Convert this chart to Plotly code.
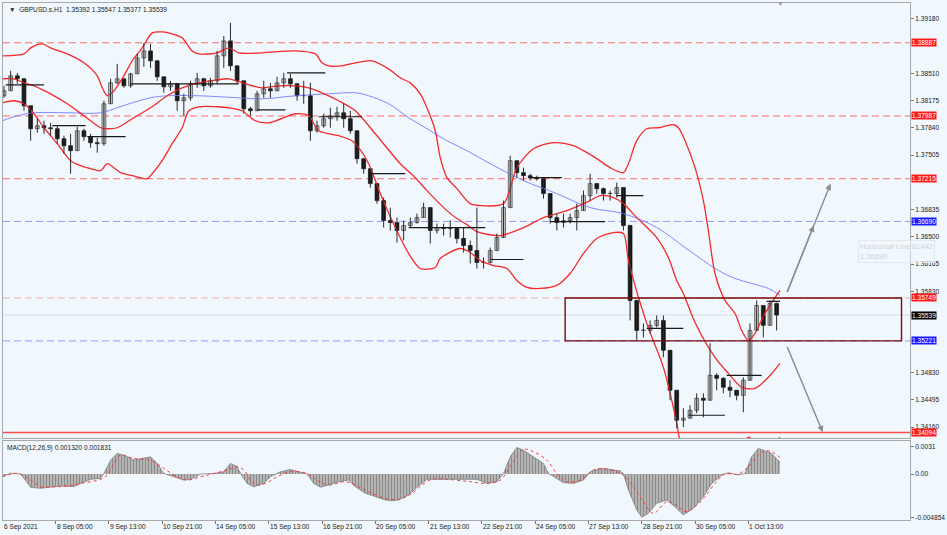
import plotly.graph_objects as go

# ---------------- DATA ----------------
symbol_title = "▼  GBPUSD.s,H1  1.35392 1.35547 1.35377 1.35539"
macd_title = "MACD(12,26,9) 0.001320 0.001831"

# 4-hour candles, x = hour index counted from the first H1 bar on screen
bar_hours = list(range(0, 468, 4))
first_open = 1.38235
highs = [1.38358, 1.38542, 1.38517, 1.38370, 1.38014, 1.37953, 1.37928, 1.37903, 1.37867, 1.37744,
         1.37768, 1.37854, 1.37830, 1.37768, 1.37719, 1.38174, 1.38444, 1.38628, 1.38419, 1.38517,
         1.38750, 1.38885, 1.38873, 1.38665, 1.38419, 1.38419, 1.38394, 1.38259, 1.38419, 1.38517,
         1.38456, 1.38456, 1.38787, 1.38971, 1.39131, 1.38579, 1.38419, 1.38100, 1.38296, 1.38419,
         1.38394, 1.38468, 1.38517, 1.38505, 1.38394, 1.38419, 1.38394, 1.37928, 1.38014, 1.38088,
         1.38100, 1.38137, 1.38051, 1.37744, 1.37437, 1.37314, 1.37155, 1.36983, 1.36860, 1.36737,
         1.36701, 1.36737, 1.36786, 1.36921, 1.36860, 1.36664, 1.36664, 1.36701, 1.36615, 1.36615,
         1.36455, 1.36860, 1.36246, 1.36369, 1.36541, 1.36946, 1.37498, 1.37437, 1.37351, 1.37277,
         1.37253, 1.37192, 1.36946, 1.36786, 1.36786, 1.36786, 1.36909, 1.37069, 1.37277, 1.37155,
         1.37106, 1.37069, 1.37167, 1.36983, 1.36650, 1.35473, 1.35436, 1.35473, 1.35534, 1.35534,
         1.35068, 1.34552, 1.34393, 1.34430, 1.34577, 1.34577, 1.35191, 1.34822, 1.34773, 1.34737,
         1.34614, 1.34773, 1.35436, 1.35719, 1.35596, 1.35719, 1.35690]
lows = [1.38210, 1.38358, 1.38382, 1.38051, 1.37683, 1.37781, 1.37768, 1.37744, 1.37646, 1.37523,
        1.37277, 1.37560, 1.37683, 1.37597, 1.37535, 1.37621, 1.38174, 1.38382, 1.38333, 1.38333,
        1.38517, 1.38591, 1.38579, 1.38419, 1.38272, 1.38296, 1.38051, 1.37989, 1.38174, 1.38333,
        1.38296, 1.38333, 1.38382, 1.38579, 1.38542, 1.38382, 1.38014, 1.37989, 1.38051, 1.38210,
        1.38210, 1.38296, 1.38333, 1.38333, 1.38174, 1.38137, 1.37683, 1.37781, 1.37842, 1.37842,
        1.37928, 1.37842, 1.37768, 1.37400, 1.37277, 1.37106, 1.36909, 1.36615, 1.36578, 1.36430,
        1.36455, 1.36615, 1.36664, 1.36737, 1.36418, 1.36541, 1.36516, 1.36492, 1.36418, 1.36308,
        1.36173, 1.36111, 1.36111, 1.36173, 1.36332, 1.36492, 1.36983, 1.37228, 1.37192, 1.37192,
        1.37192, 1.36971, 1.36664, 1.36578, 1.36615, 1.36664, 1.36578, 1.36823, 1.36946, 1.37032,
        1.36946, 1.36946, 1.36983, 1.36578, 1.35473, 1.35228, 1.35264, 1.35313, 1.35387, 1.35019,
        1.34491, 1.34147, 1.34160, 1.34282, 1.34331, 1.34282, 1.34491, 1.34614, 1.34577, 1.34528,
        1.34491, 1.34344, 1.34896, 1.35436, 1.35264, 1.35510, 1.35350]
closes = [1.38296, 1.38480, 1.38444, 1.38112, 1.37830, 1.37867, 1.37842, 1.37830, 1.37707, 1.37621,
          1.37560, 1.37805, 1.37732, 1.37658, 1.37646, 1.38137, 1.38394, 1.38444, 1.38358, 1.38505,
          1.38701, 1.38787, 1.38665, 1.38468, 1.38345, 1.38382, 1.38174, 1.38210, 1.38382, 1.38444,
          1.38358, 1.38419, 1.38726, 1.38910, 1.38603, 1.38419, 1.38075, 1.38051, 1.38259, 1.38321,
          1.38296, 1.38394, 1.38444, 1.38382, 1.38235, 1.38235, 1.37805, 1.37867, 1.37953, 1.37989,
          1.38026, 1.37953, 1.37805, 1.37462, 1.37339, 1.37155, 1.36946, 1.36701, 1.36676, 1.36578,
          1.36639, 1.36676, 1.36737, 1.36860, 1.36578, 1.36615, 1.36602, 1.36602, 1.36480, 1.36394,
          1.36332, 1.36185, 1.36185, 1.36332, 1.36492, 1.36860, 1.37437, 1.37290, 1.37253, 1.37228,
          1.37216, 1.37032, 1.36737, 1.36676, 1.36701, 1.36737, 1.36823, 1.37007, 1.37155, 1.37093,
          1.37032, 1.37032, 1.37106, 1.36639, 1.35719, 1.35350, 1.35350, 1.35412, 1.35473, 1.35105,
          1.34614, 1.34246, 1.34270, 1.34368, 1.34516, 1.34491, 1.34798, 1.34761, 1.34651, 1.34614,
          1.34552, 1.34737, 1.35350, 1.35657, 1.35412, 1.35682, 1.35539]

# Bollinger bands (traced)
bb_up_h = [-1, 12, 16, 23, 28, 38, 48, 56, 59, 62, 66, 72, 77, 83, 89, 95, 101, 107, 113, 117, 128, 135,
           141, 155, 175, 187, 191, 195, 203, 211, 221, 231, 238, 244, 250, 254, 259, 262, 266, 272, 280,
           286, 300, 308, 318, 330, 342, 348, 356, 364, 372, 375, 380, 386, 393, 402, 405, 409, 415, 420,
           423, 427, 433, 439, 443, 447, 451, 457, 466]
bb_up = [1.38726, 1.38750, 1.38824, 1.38873, 1.38824, 1.38750, 1.38640, 1.38480, 1.38333, 1.38235,
         1.38296, 1.38480, 1.38665, 1.38824, 1.39008, 1.39020, 1.38996, 1.38947, 1.38787, 1.38750,
         1.38763, 1.38824, 1.38763, 1.38763, 1.38787, 1.38750, 1.38640, 1.38603, 1.38603, 1.38640,
         1.38665, 1.38566, 1.38456, 1.38394, 1.38259, 1.38088, 1.37805, 1.37474, 1.37228, 1.37093,
         1.36909, 1.36885, 1.36909, 1.37351, 1.37584, 1.37658, 1.37621, 1.37560, 1.37462, 1.37351,
         1.37290, 1.37400, 1.37683, 1.37830, 1.37842, 1.37879, 1.37842, 1.37683, 1.37351, 1.36946,
         1.36578, 1.36050, 1.35719, 1.35559, 1.35350, 1.35228, 1.35313, 1.35559, 1.35842]
bb_mid_h = [-1, 6, 12, 18, 28, 38, 48, 58, 62, 68, 77, 88, 98, 107, 117, 128, 135, 145, 155, 165, 175,
            183, 191, 201, 211, 223, 238, 247, 254, 266, 272, 278, 284, 298, 312, 324, 338, 352, 358,
            366, 372, 380, 392, 399, 404, 408, 415, 427, 435, 443, 451, 459, 466]
bb_mid = [1.38444, 1.38444, 1.38394, 1.38358, 1.38259, 1.38137, 1.37989, 1.37842, 1.37830, 1.37842,
          1.37953, 1.38088, 1.38235, 1.38333, 1.38394, 1.38431, 1.38444, 1.38382, 1.38333, 1.38358,
          1.38358, 1.38333, 1.38272, 1.38174, 1.38051, 1.37768, 1.37400, 1.37228, 1.37069, 1.36823,
          1.36725, 1.36651, 1.36565, 1.36516, 1.36615, 1.36737, 1.36823, 1.36946, 1.37007, 1.36983,
          1.36909, 1.36737, 1.36492, 1.36246, 1.35964, 1.35805, 1.35448, 1.35019, 1.34822, 1.34651,
          1.34638, 1.34773, 1.34945]
bb_low_h = [-1, 6, 12, 18, 24, 32, 40, 46, 52, 58, 62, 66, 70, 77, 86, 89, 95, 101, 107, 111, 117, 128,
            135, 143, 151, 159, 175, 183, 189, 201, 209, 213, 219, 226, 235, 243, 250, 259, 262, 274,
            280, 286, 294, 302, 308, 314, 322, 332, 340, 348, 356, 366, 372, 375, 386, 396, 404, 409,
            418, 430, 441, 447, 451, 457, 466]
bb_low = [1.38149, 1.38174, 1.38137, 1.38014, 1.37842, 1.37646, 1.37437, 1.37376, 1.37339, 1.37314,
          1.37400, 1.37351, 1.37290, 1.37253, 1.37216, 1.37277, 1.37437, 1.37646, 1.37842, 1.38051,
          1.38100, 1.38100, 1.38088, 1.38051, 1.37928, 1.37903, 1.38014, 1.37989, 1.37805, 1.37744,
          1.37683, 1.37597, 1.37400, 1.37032, 1.36615, 1.36296, 1.36111, 1.36124, 1.36234, 1.36357,
          1.36308, 1.36210, 1.36148, 1.36111, 1.35964, 1.35879, 1.35866, 1.35903, 1.36050, 1.36296,
          1.36480, 1.36553, 1.36541, 1.36210, 1.35436, 1.34896, 1.34209, 1.33632, 1.33141, 1.33264,
          1.33816, 1.34037, 1.33988, 1.33902, 1.34037]

# slow moving average (blue)
ma_h = [-1, 8, 18, 38, 58, 68, 77, 88, 98, 117, 141, 155, 175, 195, 211, 219, 231, 243, 254, 266, 278,
        292, 312, 332, 352, 372, 392, 409, 420, 429, 439, 449, 459, 466]
ma_vals = [1.37928, 1.37989, 1.38026, 1.38026, 1.38026, 1.38088, 1.38149, 1.38210, 1.38235, 1.38235,
           1.38210, 1.38198, 1.38235, 1.38259, 1.38272, 1.38235, 1.38137, 1.37965, 1.37830, 1.37683,
           1.37560, 1.37400, 1.37192, 1.37032, 1.36860, 1.36786, 1.36615, 1.36369, 1.36210, 1.36087,
           1.35989, 1.35927, 1.35866, 1.35780]

# short black level segments: start hour, end hour, price
seg_start = [1, 29, 50, 76, 152, 170, 189, 219, 243, 292, 315, 328, 368, 386, 411, 434, 458]
seg_end = [24, 49, 73, 141, 169, 193, 215, 241, 289, 312, 335, 361, 384, 408, 433, 455, 466]
seg_price = [1.38370, 1.37867, 1.37732, 1.38382, 1.38063, 1.38517, 1.37977, 1.37277, 1.36615, 1.36222,
             1.37228, 1.36688, 1.37007, 1.35375, 1.34307, 1.34798, 1.35706]

# horizontal lines / labels
red_levels = [1.38887, 1.37987, 1.37215]
blue_levels = [1.36690, 1.35221]
zone_low, zone_high = 1.35221, 1.35749
zone_start_hour, zone_end_hour = 337, 539
support_level = 1.34094
last_price = 1.35539

# projection arrows: (start hour, start price, end hour, end price)
arrows = [(470, 1.35805, 486.3, 1.36639), (470, 1.35805, 496.4, 1.37155), (470, 1.35166, 491.7, 1.34098)]

# MACD histogram and signal (traced)
macd_h = [-1, 4, 10, 14, 16, 22, 28, 34, 42, 46, 52, 58, 60, 64, 68, 72, 78, 84, 88, 92, 96, 102, 108, 112,
          118, 126, 132, 136, 140, 142, 146, 150, 156, 160, 166, 172, 178, 182, 186, 190, 195, 201, 207,
          211, 217, 223, 229, 233, 237, 243, 248, 254, 260, 272, 278, 284, 290, 296, 300, 304, 308, 312,
          318, 324, 327, 330, 336, 342, 348, 352, 358, 364, 370, 372, 375, 380, 383, 387, 392, 398, 404,
          408, 414, 420, 425, 431, 435, 441, 445, 449, 453, 457, 461, 466]
macd_hist = [-0.00030, 0.00010, 0.00000, -0.00104, -0.00148, -0.00159, -0.00148, -0.00133, -0.00141,
             -0.00104, -0.00059, -0.00048, 0.00007, 0.00156, 0.00230, 0.00211, 0.00156, 0.00174, 0.00193,
             0.00119, 0.00007, -0.00030, -0.00067, -0.00059, 0.00000, 0.00007, 0.00026, 0.00119, 0.00082,
             0.00007, -0.00104, -0.00141, -0.00104, -0.00030, 0.00026, 0.00052, 0.00026, 0.00000, -0.00104,
             -0.00148, -0.00122, -0.00085, -0.00067, -0.00141, -0.00215, -0.00252, -0.00289, -0.00297,
             -0.00289, -0.00234, -0.00148, -0.00059, -0.00059, -0.00067, -0.00067, -0.00059, -0.00104,
             -0.00085, 0.00007, 0.00193, 0.00297, 0.00267, 0.00193, 0.00119, 0.00007, -0.00030, -0.00096,
             -0.00104, -0.00067, 0.00026, 0.00063, 0.00052, 0.00037, 0.00000, -0.00178, -0.00400, -0.00482,
             -0.00438, -0.00326, -0.00289, -0.00382, -0.00456, -0.00382, -0.00252, -0.00104, -0.00011,
             0.00015, -0.00011, 0.00007, 0.00193, 0.00286, 0.00260, 0.00230, 0.00132]
sig_h = [-1, 6, 10, 16, 22, 30, 38, 46, 58, 62, 66, 70, 78, 86, 90, 96, 104, 110, 118, 126, 134, 140, 144,
         148, 152, 158, 164, 172, 182, 188, 195, 205, 213, 221, 229, 237, 245, 251, 257, 266, 280, 290,
         298, 304, 312, 318, 326, 332, 338, 346, 354, 360, 366, 372, 378, 384, 390, 398, 404, 409, 415,
         421, 427, 433, 441, 447, 453, 457, 461, 466]
sig_vals = [-0.00030, 0.00007, 0.00000, -0.00067, -0.00141, -0.00141, -0.00133, -0.00104, -0.00059,
            -0.00011, 0.00119, 0.00211, 0.00174, 0.00163, 0.00137, 0.00063, -0.00030, -0.00067, -0.00030,
            0.00007, 0.00045, 0.00082, 0.00045, -0.00067, -0.00122, -0.00096, -0.00030, 0.00026, 0.00007,
            -0.00067, -0.00122, -0.00085, -0.00141, -0.00215, -0.00271, -0.00282, -0.00215, -0.00122,
            -0.00059, -0.00059, -0.00085, -0.00104, -0.00067, 0.00082, 0.00274, 0.00248, 0.00156, 0.00007,
            -0.00085, -0.00067, 0.00045, 0.00063, 0.00037, -0.00011, -0.00141, -0.00308, -0.00438,
            -0.00308, -0.00345, -0.00419, -0.00363, -0.00252, -0.00104, 0.00000, 0.00000, 0.00082,
            0.00211, 0.00260, 0.00248, 0.00183]

# axis labels (grid values hidden under the coloured price labels are omitted)
price_ticks = [1.39180, 1.38510, 1.38175, 1.37840, 1.37505, 1.36835, 1.36500,
               1.36165, 1.35830, 1.34830, 1.34495, 1.34160]
macd_ticks = [0.0031, 0.0, -0.004854]
macd_tick_text = ["0.0031", "0.00", "-0.004854"]
time_label_hours = [-0.6, 31, 63, 95, 127, 159, 191, 223, 255, 287, 319, 351, 383, 415, 447]
time_labels = ["6 Sep 2021", "8 Sep 05:00", "9 Sep 13:00", "10 Sep 21:00", "14 Sep 05:00",
               "15 Sep 13:00", "16 Sep 21:00", "20 Sep 05:00", "21 Sep 13:00", "22 Sep 21:00",
               "24 Sep 05:00", "27 Sep 13:00", "28 Sep 21:00", "30 Sep 05:00", "1 Oct 13:00"]
label_boxes = [(1.38887, "#ff1a1a"), (1.37987, "#ff1a1a"), (1.37215, "#ff1a1a"), (1.36690, "#1a1aff"),
               (1.35749, "#ff1a1a"), (1.35539, "#000000"), (1.35221, "#1a1aff"), (1.34094, "#ff1a1a")]

# ---------------- FIGURE ----------------
FONT = "Liberation Sans"
FS = 6.6
BG = "#F0F7FD"
X_RANGE = [-0.6, 544.1]
BODY_W = 2.3  # candle body width in hours

opens = [first_open] + closes[:-1]
hi_c = [max(h, o, c) for h, o, c in zip(highs, opens, closes)]
lo_c = [min(l, o, c) for l, o, c in zip(lows, opens, closes)]

fig = go.Figure()

shapes = []
for lv in red_levels:
    shapes.append(dict(type="line", xref="x", yref="y", x0=X_RANGE[0], x1=X_RANGE[1], y0=lv, y1=lv,
                       line=dict(color="#ff6b6b", width=1, dash="7px,4px"), layer="below"))
for lv in blue_levels:
    shapes.append(dict(type="line", xref="x", yref="y", x0=X_RANGE[0], x1=X_RANGE[1], y0=lv, y1=lv,
                       line=dict(color="#9a9aff", width=1, dash="7px,4px"), layer="below"))
shapes.append(dict(type="line", xref="x", yref="y", x0=X_RANGE[0], x1=X_RANGE[1], y0=zone_high, y1=zone_high,
                   line=dict(color="#f5b0b0", width=1, dash="7px,4px"), layer="below"))
shapes.append(dict(type="line", xref="x", yref="y", x0=X_RANGE[0], x1=X_RANGE[1], y0=last_price, y1=last_price,
                   line=dict(color="#d6dee6", width=1), layer="below"))
shapes.append(dict(type="line", xref="x", yref="y", x0=X_RANGE[0], x1=X_RANGE[1], y0=support_level,
                   y1=support_level, line=dict(color="#ff4d4d", width=1.6), layer="above"))
shapes.append(dict(type="rect", xref="x", yref="y", x0=zone_start_hour, x1=zone_end_hour, y0=zone_low,
                   y1=zone_high, line=dict(color="#7a0a0a", width=1.4), fillcolor="rgba(0,0,0,0)", layer="above"))
for s, e, p in zip(seg_start, seg_end, seg_price):
    shapes.append(dict(type="line", xref="x", yref="y", x0=s, x1=e, y0=p, y1=p,
                       line=dict(color="#1a1a1a", width=1.2), layer="above"))

fig.add_trace(go.Scatter(x=ma_h, y=ma_vals, mode="lines", line=dict(color="#7f88ff", width=1, shape="spline"),
                         hoverinfo="skip", xaxis="x", yaxis="y"))
for hx, vals in [(bb_up_h, bb_up), (bb_mid_h, bb_mid), (bb_low_h, bb_low)]:
    fig.add_trace(go.Scatter(x=hx, y=vals, mode="lines",
                             line=dict(color="#f52a2a", width=1.3, shape="spline", smoothing=0.8),
                             hoverinfo="skip", xaxis="x", yaxis="y"))

# candles: wicks + bodies
wx, wy = [], []
for h, l, hh in zip(bar_hours, lo_c, hi_c):
    wx += [h, h, None]
    wy += [l, hh, None]
fig.add_trace(go.Scatter(x=wx, y=wy, mode="lines", line=dict(color="#2a2a2a", width=1),
                         hoverinfo="skip", xaxis="x", yaxis="y"))
up = [c >= o for o, c in zip(opens, closes)]
for is_up, fill, edge in [(True, "#c8c8c8", "#3a3a3a"), (False, "#141414", "#141414")]:
    xs = [h for h, u in zip(bar_hours, up) if u == is_up]
    base = [min(o, c) for o, c, u in zip(opens, closes, up) if u == is_up]
    size = [max(abs(c - o), 0.00004) for o, c, u in zip(opens, closes, up) if u == is_up]
    fig.add_trace(go.Bar(x=xs, y=size, base=base, width=BODY_W, marker=dict(color=fill, line=dict(color=edge, width=0.7)),
                         hoverinfo="skip", xaxis="x", yaxis="y"))

fig.add_trace(go.Scatter(x=macd_h, y=macd_hist, mode="lines", fill="tozeroy",
                         fillcolor="#a6a6a6",
                         fillpattern=dict(shape="|", size=3, solidity=0.5, fgcolor="#4f4f4f", bgcolor="#c4c4c4"),
                         line=dict(color="#6a6a6a", width=0.6), hoverinfo="skip", xaxis="x2", yaxis="y2"))
fig.add_trace(go.Scatter(x=sig_h, y=sig_vals, mode="lines",
                         line=dict(color="#ff3b3b", width=1, dash="dot", shape="spline"),
                         hoverinfo="skip", xaxis="x2", yaxis="y2"))

ann = []
ann.append(dict(text=symbol_title, xref="paper", yref="paper", x=0.004, y=1, xanchor="left", yanchor="top",
                yshift=-1, showarrow=False, font=dict(family=FONT, size=FS, color="#222")))
ann.append(dict(text=macd_title, xref="paper", yref="paper", x=0.002, y=0.1525, xanchor="left", yanchor="top",
                yshift=-1, showarrow=False, font=dict(family=FONT, size=FS, color="#222")))
for hx, t in zip(time_label_hours, time_labels):
    ann.append(dict(text=t, xref="x2", yref="paper", x=hx, y=0, xanchor="left", yanchor="top", yshift=-1,
                    xshift=-1, showarrow=False, font=dict(family=FONT, size=FS, color="#222")))
for p, col in label_boxes:
    ann.append(dict(text=f"{p:.5f}", xref="paper", yref="y", x=1, y=p, xanchor="left", yanchor="middle",
                    xshift=1, showarrow=False, bgcolor=col, borderpad=0,
                    font=dict(family=FONT, size=FS, color="white")))
for (h0, p0, h1, p1) in arrows:
    ann.append(dict(x=h1, y=p1, ax=h0, ay=p0, xref="x", yref="y", axref="x", ayref="y", text="",
                    showarrow=True, arrowhead=2, arrowsize=0.9, arrowwidth=1.4, arrowcolor="#8c8c8c"))
ann.append(dict(text="Horizontal Line 61442<br>1.36690", xref="paper", yref="paper", x=0.943, y=0.541,
                xanchor="left", yanchor="top", align="left", showarrow=False, bgcolor="rgba(240,247,253,0.5)",
                bordercolor="#e2e8ee", borderwidth=1, borderpad=1,
                font=dict(family=FONT, size=7.5, color="#cdd4db")))
ann.append(dict(text="▼", xref="x", yref="paper", x=466.5, y=1, yanchor="middle", showarrow=False,
                font=dict(size=7, color="#9a9a9a")))

axis_common = dict(showgrid=False, zeroline=False, showline=True, mirror=True, linecolor="#a9a9a9",
                   linewidth=1)
fig.update_layout(
    width=947, height=535,
    margin=dict(l=2, r=31, t=2, b=15),
    paper_bgcolor=BG, plot_bgcolor=BG,
    showlegend=False, hovermode=False, barmode="overlay",
    shapes=shapes, annotations=ann,
    xaxis=dict(domain=[0, 1], range=X_RANGE, anchor="y", showticklabels=False, ticks="",
               rangeslider=dict(visible=False), **axis_common),
    yaxis=dict(domain=[0.1583, 1], range=[1.34025, 1.39376], side="right", anchor="x",
               tickvals=price_ticks, ticktext=[f"{v:.5f}" for v in price_ticks],
               ticks="outside", ticklen=3, tickcolor="#777",
               tickfont=dict(family=FONT, size=FS, color="#222"), **axis_common),
    xaxis2=dict(domain=[0, 1], range=X_RANGE, anchor="y2", matches="x", showticklabels=False,
                tickvals=time_label_hours[1:], ticks="outside", ticklen=3, tickcolor="#777", **axis_common),
    yaxis2=dict(domain=[0, 0.1525], range=[-0.00512, 0.00367], side="right", anchor="x2",
                tickvals=macd_ticks, ticktext=macd_tick_text, ticks="outside", ticklen=3, tickcolor="#777",
                tickfont=dict(family=FONT, size=FS, color="#222"), **axis_common),
)

fig.write_html("out.html", config={"displayModeBar": False},
               post_script="document.body.style.margin='0';document.body.style.overflow='hidden';")
